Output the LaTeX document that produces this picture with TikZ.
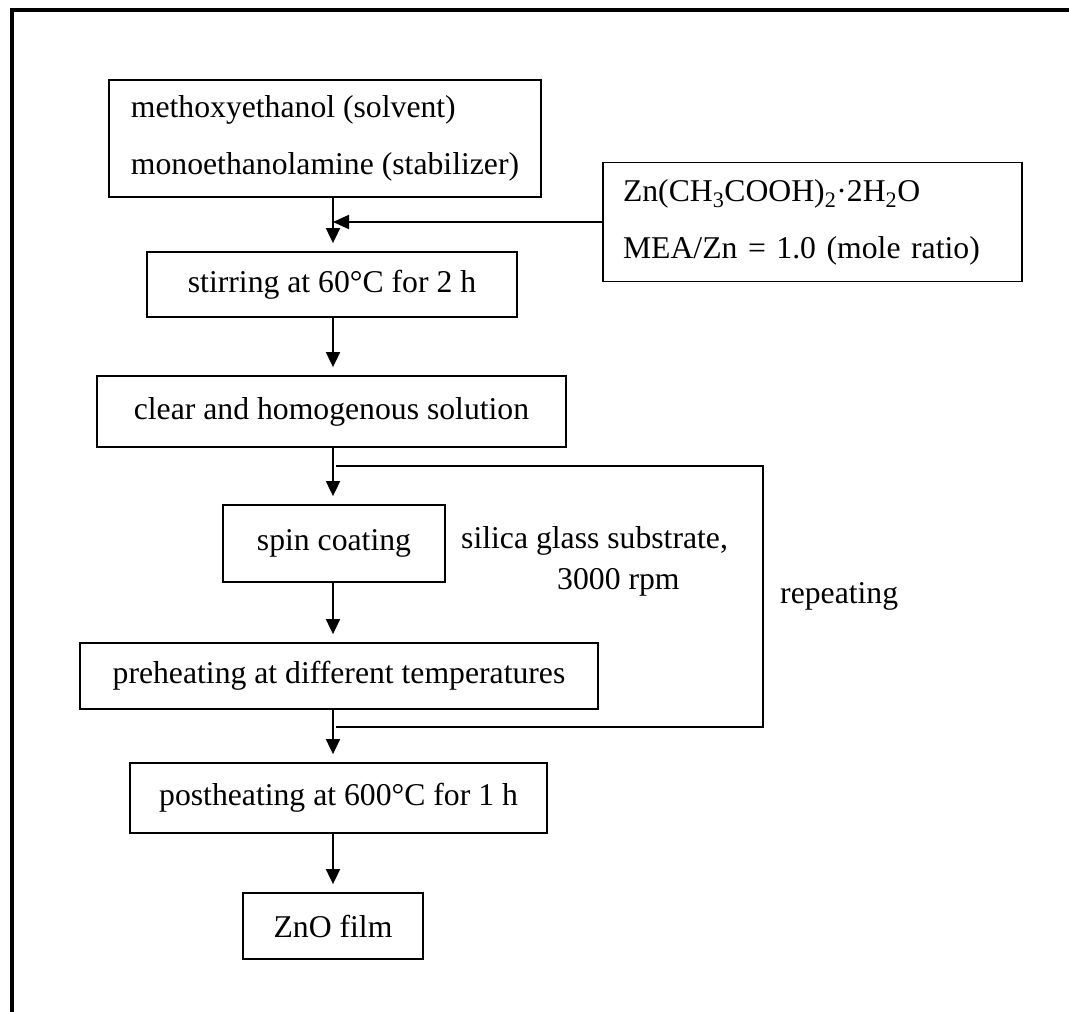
\documentclass[tikz,border=0pt]{standalone}
\usepackage{fontspec}
\setmainfont{Liberation Serif}
\usetikzlibrary{arrows.meta}

\begin{document}
\begin{tikzpicture}[x=1pt, y=-1pt,
  txt/.style={font=\fontsize{31.7pt}{57pt}\selectfont, inner sep=0pt},
  box/.style={txt, draw, line width=1.8pt},
  flow/.style={line width=1.8pt, -{Triangle[length=15pt,width=14pt]}, shorten >=8pt},
  feed/.style={line width=2pt, -{Triangle[length=16pt,width=14pt]}},
  loopline/.style={line width=1.6pt, line join=miter}
]
\useasboundingbox (0,0) rectangle (1069,1012);

% frame (top and left edges)
\draw[line width=4pt, line join=miter] (12,1014) -- (12,9.5) -- (1071,9.5);

% vertical axis of the flow chart
\coordinate (spine) at (333,0);

% process boxes
\node[box, align=left, minimum width=432pt, minimum height=117pt]
  (solv) at (325,138.5) {methoxyethanol (solvent)\\monoethanolamine (stabilizer)};
\node[box, align=left, text width=379pt, minimum width=419pt, minimum height=119pt]
  (zn) at (812.5,222) {Zn(CH\textsubscript{3}COOH)\textsubscript{2}·2H\textsubscript{2}O\\MEA/Zn = 1.0 (mole ratio)};
\node[box, minimum width=370pt, minimum height=65pt]
  (stir) at (332,284.5) {stirring at 60°C for 2 h};
\node[box, minimum width=469pt, minimum height=71pt]
  (clear) at (331.5,411.5) {clear and homogenous solution};
\node[box, minimum width=222pt, minimum height=77pt]
  (spin) at (334,543.5) {spin coating};
\node[box, minimum width=518pt, minimum height=66pt]
  (pre) at (339,676) {preheating at different temperatures};
\node[box, minimum width=417pt, minimum height=70pt]
  (post) at (338.5,798) {postheating at 600°C for 1 h};
\node[box, minimum width=180pt, minimum height=66pt]
  (zno) at (333,926) {ZnO film};

% side notes
\node[txt, anchor=base west] (sub1) at (461,548) {silica glass substrate,};
\node[txt, anchor=base west] (sub2) at (557,589) {3000 rpm};
\node[txt, anchor=west] (rep) at (780,596) {repeating};

% main flow
\draw[flow] (solv.south -| spine) -- (stir.north -| spine);
\draw[feed] (zn.west) -- (zn.west -| spine);
\draw[flow] (stir.south -| spine) -- (clear.north -| spine);
\draw[flow] (clear.south -| spine) -- (spin.north -| spine);
\draw[flow] (spin.south -| spine) -- (pre.north -| spine);
\draw[flow] (pre.south -| spine) -- (post.north -| spine);
\draw[flow] (post.south -| spine) -- (zno.north -| spine);

% repeat loop
\coordinate (looptop) at (336,466);
\coordinate (loopbot) at (336,727);
\coordinate (loopx) at (763,0);
\draw[loopline] (loopbot) -- (loopbot -| loopx) -- (looptop -| loopx) -- (looptop);
\end{tikzpicture}
\end{document}
